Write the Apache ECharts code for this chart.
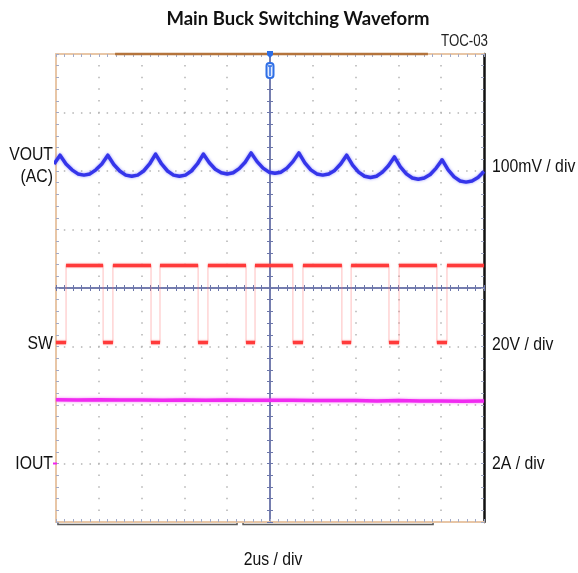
<!DOCTYPE html>
<html><head><meta charset="utf-8">
<script src="https://cdn.jsdelivr.net/npm/echarts@6/dist/echarts.min.js"></script>
<style>html,body{margin:0;padding:0;background:#fff}#c{width:578px;height:573px}</style>
</head><body><div id="c"></div>
<script>
// ---------------- text ----------------
const TITLE = 'Main Buck Switching Waveform';
const FIG_ID = 'TOC-03';
const TIME_LABEL = '2us / div';
const LEFT_LABELS = ['VOUT', '(AC)', 'SW', 'IOUT'];
const RIGHT_LABELS = ['100mV / div', '20V / div', '2A / div'];

// ---------------- axes (time in us from trigger, vertical in divisions) ----------------
const TIME_MIN_US = -10, TIME_MAX_US = 10, TIME_DIV_US = 2;
const DIV_MIN = -4, DIV_MAX = 4, DIV_STEP = 1;

// ---------------- channel settings ----------------
const VOUT_OFFSET_DIV = 2.1, VOUT_MV_PER_DIV = 100;
const SW_OFFSET_DIV = -0.93, SW_V_PER_DIV = 20;
const IOUT_OFFSET_DIV = -3, IOUT_A_PER_DIV = 2;

// ---------------- VOUT (AC coupled, mV), sampled every VOUT_DT_US ----------------
const VOUT_T0_US = -10.09;
const VOUT_DT_US = 0.279;
const VOUT_MV = [2,
  17, 2, -8, -15, -17, -15, -8, 2,
  17, 1, -10, -17, -19, -17, -10, 2,
  19, 2, -10, -17, -19, -17, -10, 2,
  19, 4, -7, -13, -15, -13, -6, 5,
  21, 6, -5, -12, -14, -12, -5, 6,
  21, 4, -8, -15, -17, -15, -9, 2,
  17, 0, -12, -19, -21, -19, -12, -1,
  14, -3, -15, -22, -24, -22, -16, -5,
  9, -8, -20, -27, -29, -27, -21, -11];

// ---------------- SW node (V) ----------------
const SW_RISE_US = [-9.53, -7.34, -5.14, -2.90, -0.70, 1.54, 3.79, 6.03, 8.27];
const SW_FALL_US = [-7.80, -5.56, -3.36, -1.12, 1.07, 3.36, 5.56, 7.80];
const SW_HIGH_V = 26.3, SW_LOW_V = 0;

// ---------------- IOUT (A) ----------------
const IOUT_T_US = [-10, -9, -8, -7, -6, -5, -4, -3, -2, -1, 0, 1, 2, 3, 4, 5, 6, 7, 8, 9, 10];
const IOUT_A = [2.18, 2.17, 2.18, 2.17, 2.17, 2.16, 2.17, 2.16, 2.17, 2.16, 2.16, 2.16, 2.15, 2.15, 2.15, 2.14, 2.15, 2.14, 2.14, 2.13, 2.14];

// ---------------- scope decorations (time units) ----------------
const RECORD_BAR_US = [-7.24, 7.38];
const BRACKETS_US = [[-9.91, -1.54], [-1.26, 7.62]];

// ---------------- build ----------------
const SANS = '"Liberation Sans", Arial, sans-serif';
const NARROW_SCALE = 0.83;
const TAN = '#e8c6a6', TICK = '#a3aac6', DOT = '#b4b4b4', CROSS = '#6c76aa';

const voutData = VOUT_MV.map((v, i) => [VOUT_T0_US + i * VOUT_DT_US, VOUT_OFFSET_DIV + v / VOUT_MV_PER_DIV]);
const iData = IOUT_T_US.map((t, i) => [t, IOUT_OFFSET_DIV + IOUT_A[i] / IOUT_A_PER_DIV]);
const swHi = SW_OFFSET_DIV + SW_HIGH_V / SW_V_PER_DIV;
const swLo = SW_OFFSET_DIV + SW_LOW_V / SW_V_PER_DIV;

const swPath = [[TIME_MIN_US, swLo]];
const swLevels = [[TIME_MIN_US, swLo]];
for (let k = 0; k < SW_RISE_US.length; k++) {
  const r = SW_RISE_US[k];
  swPath.push([r, swLo], [r, swHi]);
  swLevels.push([r, swLo], null, [r, swHi]);
  if (k < SW_FALL_US.length) {
    const f = SW_FALL_US[k];
    swPath.push([f, swHi], [f, swLo]);
    swLevels.push([f, swHi], null, [f, swLo]);
  }
}
swPath.push([TIME_MAX_US, swHi]);
swLevels.push([TIME_MAX_US, swHi]);

function xAx(extra) {
  return Object.assign({
    type: 'value', min: TIME_MIN_US, max: TIME_MAX_US, interval: TIME_DIV_US,
    axisLabel: { show: false }, splitLine: { show: false }
  }, extra);
}
function yAx(extra) {
  return Object.assign({
    type: 'value', min: DIV_MIN, max: DIV_MAX, interval: DIV_STEP,
    axisLabel: { show: false }, splitLine: { show: false }
  }, extra);
}
const minor = (c) => ({ show: true, splitNumber: 5, length: 3, lineStyle: { color: c, width: 1 } });

const option = {
  animation: false,
  backgroundColor: '#fff',
  grid: { left: 56, right: 94, top: 54, bottom: 51, containLabel: false },
  xAxis: [
    xAx({ position: 'bottom', axisLine: { show: true, onZero: false, lineStyle: { color: TAN, width: 2 } },
      axisTick: { show: true, inside: true, length: 3, lineStyle: { color: TICK } }, minorTick: minor(TICK),
      splitLine: { show: true, lineStyle: { color: DOT, width: 1.5, type: [1.5, 10.2], dashOffset: 0.75 } } }),
    xAx({ position: 'top', axisLine: { show: true, onZero: false, lineStyle: { color: TAN, width: 2 } },
      axisTick: { show: true, inside: true, length: 3, lineStyle: { color: TICK } }, minorTick: minor(TICK) }),
    xAx({ position: 'bottom', axisLine: { show: true, onZero: true, onZeroAxisIndex: 0, lineStyle: { color: CROSS, width: 1.5 } },
      axisTick: { show: true, inside: true, length: 3, lineStyle: { color: CROSS } }, minorTick: minor(CROSS) }),
    xAx({ position: 'bottom', axisLine: { show: true, onZero: true, onZeroAxisIndex: 0, lineStyle: { color: CROSS, width: 1.5 } },
      axisTick: { show: true, inside: false, length: 3, lineStyle: { color: CROSS } }, minorTick: minor(CROSS) })
  ],
  yAxis: [
    yAx({ position: 'left', axisLine: { show: true, onZero: false, lineStyle: { color: TAN, width: 2 } },
      axisTick: { show: true, inside: true, length: 3, lineStyle: { color: TICK } }, minorTick: minor(TICK),
      splitLine: { show: true, lineStyle: { color: DOT, width: 1.5, type: [1.5, 7.06], dashOffset: 0.75 } } }),
    yAx({ position: 'right', axisLine: { show: true, onZero: false, lineStyle: { color: '#111', width: 2.5 } },
      axisTick: { show: true, inside: true, length: 3, lineStyle: { color: TICK } }, minorTick: minor(TICK) }),
    yAx({ position: 'left', axisLine: { show: true, onZero: true, onZeroAxisIndex: 0, lineStyle: { color: CROSS, width: 1.5 } },
      axisTick: { show: true, inside: true, length: 3, lineStyle: { color: CROSS } }, minorTick: minor(CROSS) }),
    yAx({ position: 'left', axisLine: { show: true, onZero: true, onZeroAxisIndex: 0, lineStyle: { color: CROSS, width: 1.5 } },
      axisTick: { show: true, inside: false, length: 3, lineStyle: { color: CROSS } }, minorTick: minor(CROSS) })
  ],
  series: [
    { name: 'VOUT', type: 'line', xAxisIndex: 0, yAxisIndex: 0, data: voutData, showSymbol: false, smooth: false,
      lineStyle: { color: '#3535ea', width: 3.5, join: 'round', shadowBlur: 3, shadowColor: 'rgba(70,70,255,0.55)' } },
    { name: 'SW edges', type: 'line', xAxisIndex: 0, yAxisIndex: 0, data: swPath, showSymbol: false,
      lineStyle: { color: 'rgba(255,110,110,0.45)', width: 1 } },
    { name: 'SW', type: 'line', xAxisIndex: 0, yAxisIndex: 0, data: swLevels, showSymbol: false, connectNulls: false,
      lineStyle: { color: '#ff3a3a', width: 3.5, shadowBlur: 2, shadowColor: 'rgba(255,70,70,0.6)' } },
    { name: 'IOUT', type: 'line', xAxisIndex: 0, yAxisIndex: 0, data: iData, showSymbol: false,
      lineStyle: { color: '#f02af0', width: 3.5, shadowBlur: 3, shadowColor: 'rgba(240,50,240,0.6)' } }
  ]
};

const chart = echarts.init(document.getElementById('c'), null, { renderer: 'canvas' });
chart.setOption(option);

const P = (t, d) => chart.convertToPixel({ xAxisIndex: 0, yAxisIndex: 0 }, [t, d]);
function txt(text, x, y, align, font, fill, sx) {
  return { type: 'text', x: x, y: y, z: 100, scaleX: sx || 1, scaleY: 1,
    style: { text: text, font: font, fill: fill || '#111',
      align: align, verticalAlign: 'middle', textAlign: align, textVerticalAlign: 'middle' } };
}
const lab = '19px ' + SANS;
const tl = P(TIME_MIN_US, DIV_MAX), br = P(TIME_MAX_US, DIV_MIN);
const yV = P(0, VOUT_OFFSET_DIV)[1], yS = P(0, SW_OFFSET_DIV)[1], yI = P(0, IOUT_OFFSET_DIV)[1];
const lx = tl[0] - 3, rx = br[0] + 8;
const c0 = P(0, DIV_MAX);
const rb0 = P(RECORD_BAR_US[0], DIV_MAX), rb1 = P(RECORD_BAR_US[1], DIV_MAX);
const graphic = [
  txt(TITLE, 298, 19, 'center', 'bold 18.5px Lato, "Open Sans", sans-serif', '#111'),
  txt(FIG_ID, 488, 42, 'right', '16px ' + SANS, '#222', NARROW_SCALE),
  txt(LEFT_LABELS[0], lx, yV - 10, 'right', lab, '#111', NARROW_SCALE),
  txt(LEFT_LABELS[1], lx, yV + 12, 'right', lab, '#111', NARROW_SCALE),
  txt(LEFT_LABELS[2], lx, yS + 1, 'right', lab, '#111', NARROW_SCALE),
  txt(LEFT_LABELS[3], lx, yI, 'right', lab, '#111', NARROW_SCALE),
  txt(RIGHT_LABELS[0], rx, yV + 2, 'left', lab, '#111', NARROW_SCALE),
  txt(RIGHT_LABELS[1], rx, yS + 2, 'left', lab, '#111', NARROW_SCALE),
  txt(RIGHT_LABELS[2], rx, yI, 'left', lab, '#111', NARROW_SCALE),
  txt(TIME_LABEL, c0[0] + 3, br[1] + 38, 'center', lab, '#111', NARROW_SCALE),
  { type: 'line', z: 50, shape: { x1: rb0[0], y1: rb0[1], x2: rb1[0], y2: rb1[1] }, style: { stroke: '#b4743c', lineWidth: 2.5 } },
  { type: 'polygon', z: 60, shape: { points: [[c0[0] - 3, c0[1] - 3], [c0[0] + 3, c0[1] - 3], [c0[0] + 3, c0[1] + 1], [c0[0], c0[1] + 4], [c0[0] - 3, c0[1] + 1]] }, style: { fill: '#2f6fe6' } },
  { type: 'rect', z: 60, shape: { x: c0[0] - 3.5, y: c0[1] + 9, width: 7, height: 15, r: 3 }, style: { fill: '#e2ecff', stroke: '#2f6fe6', lineWidth: 2 } },
  { type: 'line', z: 61, shape: { x1: c0[0] - 2, y1: c0[1] + 12, x2: c0[0] + 2, y2: c0[1] + 12 }, style: { stroke: '#2f6fe6', lineWidth: 1.5 } },
  { type: 'line', z: 61, shape: { x1: c0[0], y1: c0[1] + 12, x2: c0[0], y2: c0[1] + 22 }, style: { stroke: '#2f6fe6', lineWidth: 1.5 } },
  { type: 'line', z: 50, shape: { x1: tl[0] - 3, y1: yI, x2: tl[0] + 1, y2: yI }, style: { stroke: '#f024f0', lineWidth: 2 } }
];
BRACKETS_US.forEach(function (b) {
  const a = P(b[0], DIV_MIN), e = P(b[1], DIV_MIN);
  graphic.push({ type: 'polyline', z: 50, shape: { points: [[a[0], a[1] + 1], [a[0], a[1] + 2.5], [e[0], e[1] + 2.5], [e[0], e[1] + 1]] },
    style: { stroke: '#5a5a5a', lineWidth: 1.5, fill: null } });
});
chart.setOption({ graphic: graphic });
</script></body></html>
